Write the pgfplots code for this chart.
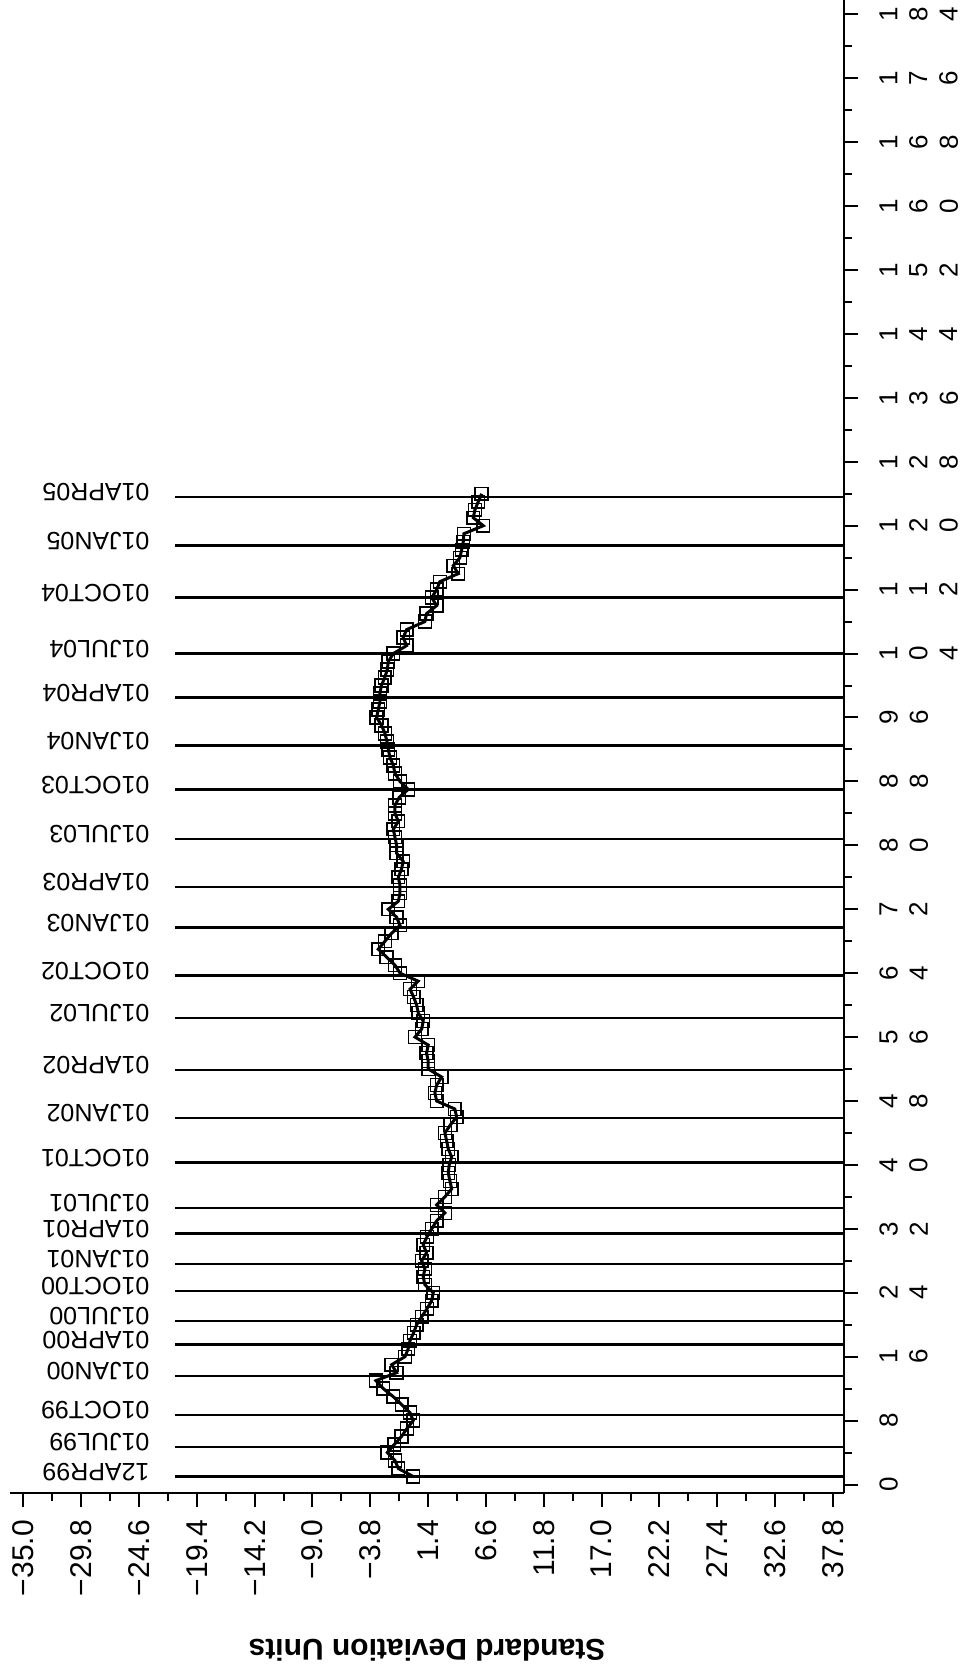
\documentclass[border=0pt]{standalone}
\usepackage{pgfplots}
\pgfplotsset{compat=1.18}
\usepackage{fontspec}
\setmainfont{Liberation Sans}
\usepackage{graphicx}
\newcommand\rd[1]{\rotatebox{90}{#1}}
\newcommand\dgap{\hspace{6pt}}
\newcommand\refl[2]{%
  \draw[line width=1.2pt] (axis cs:-21.37,#1) -- (axis cs:38.8,#1);
  \node[rotate=180, anchor=base west, inner sep=0pt, font=\fontsize{12.5}{12.5}\selectfont] at ([yshift=6.65pt]axis cs:-23.62,#1) {#2};}
\begin{document}
\begin{tikzpicture}
\path[use as bounding box] (-5pt,-87.85pt) rectangle (476.5pt,746.65pt);
\begin{axis}[
  at={(0,0)}, anchor=south west,
  width=417pt, height=746.65pt, scale only axis,
  xmin=-36.2, xmax=38.8, ymin=-1.1, ymax=185.8,
  axis x line*=bottom, axis y line*=right,
  axis line style={line width=1pt},
  xtick={-35,-29.8,-24.6,-19.4,-14.2,-9,-3.8,1.4,6.6,11.8,17,22.2,27.4,32.6,37.8},
  xticklabels={−35.0,−29.8,−24.6,−19.4,−14.2,−9.0,−3.8,1.4,6.6,11.8,17.0,22.2,27.4,32.6,37.8},
  minor x tick num=1,
  ytick={0,8,...,184}, minor y tick num=1,
  yticklabels={{\rd0},{\rd8},{\rd1\dgap\rd6},{\rd2\dgap\rd4},{\rd3\dgap\rd2},{\rd4\dgap\rd0},{\rd4\dgap\rd8},{\rd5\dgap\rd6},{\rd6\dgap\rd4},{\rd7\dgap\rd2},{\rd8\dgap\rd0},{\rd8\dgap\rd8},{\rd9\dgap\rd6},{\rd1\dgap\rd0\dgap\rd4},{\rd1\dgap\rd1\dgap\rd2},{\rd1\dgap\rd2\dgap\rd0},{\rd1\dgap\rd2\dgap\rd8},{\rd1\dgap\rd3\dgap\rd6},{\rd1\dgap\rd4\dgap\rd4},{\rd1\dgap\rd5\dgap\rd2},{\rd1\dgap\rd6\dgap\rd0},{\rd1\dgap\rd6\dgap\rd8},{\rd1\dgap\rd7\dgap\rd6},{\rd1\dgap\rd8\dgap\rd4}},
  tick align=outside,
  major tick length=7pt, minor tick length=4pt,
  every tick/.style={black, line width=1pt},
  xticklabel style={rotate=90, anchor=east, inner sep=0pt, font=\fontsize{15}{15}\selectfont},
  yticklabel style={anchor=west, inner sep=0pt, font=\fontsize{13}{13}\selectfont},
  xticklabel shift=6.25pt, yticklabel shift=10.5pt,
  clip=false,
]
\refl{1.0}{12APR99}
\refl{4.7}{01JUL99}
\refl{8.7}{01OCT99}
\refl{13.6}{01JAN00}
\refl{17.5}{01APR00}
\refl{20.5}{01JUL00}
\refl{24.2}{01OCT00}
\refl{27.6}{01JAN01}
\refl{31.4}{01APR01}
\refl{34.6}{01JUL01}
\refl{40.3}{01OCT01}
\refl{45.9}{01JAN02}
\refl{51.9}{01APR02}
\refl{58.4}{01JUL02}
\refl{63.7}{01OCT02}
\refl{69.7}{01JAN03}
\refl{74.8}{01APR03}
\refl{80.8}{01JUL03}
\refl{87.0}{01OCT03}
\refl{92.5}{01JAN04}
\refl{98.5}{01APR04}
\refl{104.0}{01JUL04}
\refl{111.0}{01OCT04}
\refl{117.5}{01JAN05}
\refl{123.6}{01APR05}
\addplot[black, line width=1.5pt, mark=square, mark size=3.2pt, mark options={line width=0.75pt, solid}] table {
x y
0.06 1
-1.28 2
-1.58 3
-2.27 4
-1.65 5
-1.00 6
-0.50 7
0.06 8
-0.23 9
-0.98 10
-1.74 11
-2.63 12
-3.29 13
-1.43 14
-1.88 15
-0.68 16
-0.39 17
-0.23 18
0.10 19
0.37 20
0.82 21
1.30 22
1.72 23
1.86 24
1.11 25
0.96 26
1.11 27
0.82 28
1.26 29
0.96 30
1.30 31
1.72 32
2.17 33
2.91 34
2.17 35
2.91 36
3.52 37
3.36 38
3.21 39
3.30 40
3.52 41
3.21 42
3.07 43
2.91 44
3.40 45
3.97 46
3.80 47
2.17 48
2.01 49
2.17 50
2.62 51
1.41 52
1.41 53
1.26 54
1.41 55
0.22 56
0.82 57
0.96 58
0.52 59
0.37 60
0.10 61
-0.23 62
0.50 63
-1.13 64
-1.58 65
-2.33 66
-3.08 67
-2.48 68
-1.88 69
-1.13 70
-1.43 71
-2.18 72
-1.28 73
-1.13 74
-1.13 75
-1.28 76
-1.00 77
-0.84 78
-1.43 79
-1.43 80
-1.58 81
-1.73 82
-1.28 83
-1.58 84
-1.58 85
-1.20 86
-0.39 87
-1.13 88
-1.58 89
-1.73 90
-2.03 91
-2.18 92
-2.30 93
-2.48 94
-2.78 95
-3.23 96
-3.08 97
-2.93 98
-2.93 99
-2.80 100
-2.50 101
-2.27 102
-2.18 103
-1.73 104
-0.53 105
-0.84 106
-0.53 107
1.11 108
1.26 109
2.17 110
1.72 111
2.17 112
2.46 113
4.11 114
3.66 115
4.26 116
4.42 117
4.56 118
4.62 119
6.36 120
5.46 121
5.61 122
5.91 123
6.21 124
};
\node[rotate=180, font=\bfseries\fontsize{15}{15}\selectfont, inner sep=0pt] at ([yshift=-78.25pt]rel axis cs:0.5,0) {Standard Deviation Units};
\end{axis}
\end{tikzpicture}
\end{document}
